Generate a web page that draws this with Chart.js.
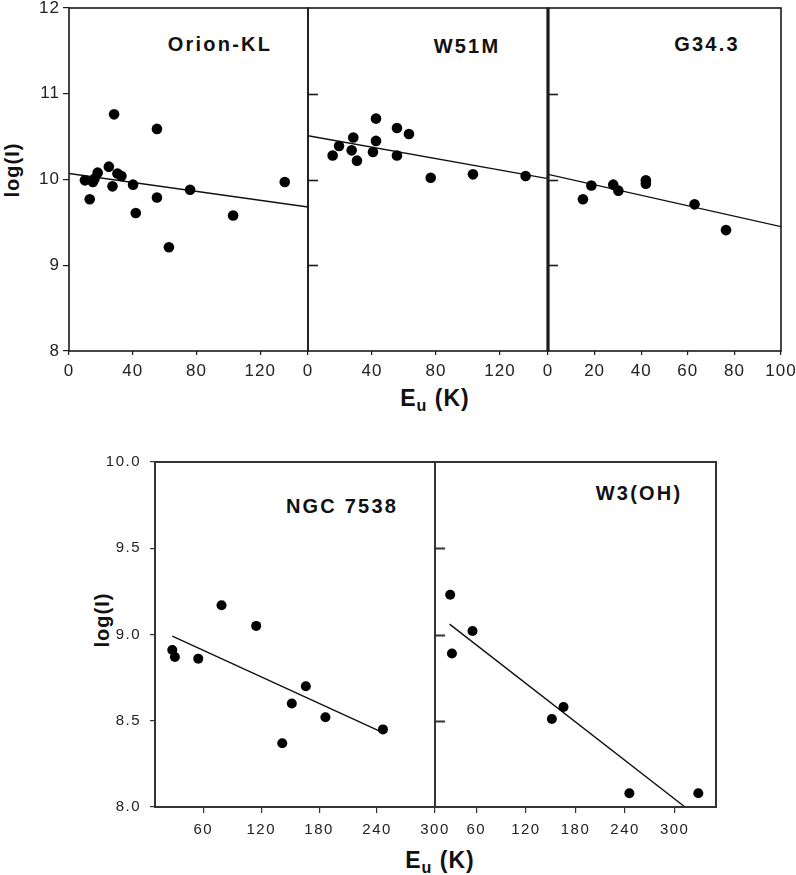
<!DOCTYPE html>
<html>
<head>
<meta charset="utf-8">
<script src="https://cdn.jsdelivr.net/npm/chart.js@4.4.0/dist/chart.umd.min.js"></script>
<style>
  body { margin: 0; background: #fff; width: 796px; height: 875px; position: relative; overflow: hidden;
         font-family: "Liberation Sans", Arial, sans-serif; }
  canvas { position: absolute; }
  .lbl { position: absolute; transform: translate(-50%, -50%); font-weight: bold; white-space: nowrap; color: #111; }
  .lbl sub { font-size: 70%; vertical-align: -0.35em; }
  .rot { transform: translate(-50%, -50%) rotate(-90deg); }
</style>
</head>
<body>

<div class="lbl" style="left:220px;top:44px;font-size:20px;letter-spacing:2.2px">Orion-KL</div>
<div class="lbl" style="left:467px;top:46px;font-size:20px;letter-spacing:2.2px">W51M</div>
<div class="lbl" style="left:707px;top:44px;font-size:20px;letter-spacing:2.2px">G34.3</div>
<div class="lbl" style="left:342px;top:506px;font-size:20px;letter-spacing:2.2px">NGC 7538</div>
<div class="lbl" style="left:639px;top:493px;font-size:20px;letter-spacing:2.2px">W3(OH)</div>
<div class="lbl" style="left:435px;top:400px;font-size:23px;letter-spacing:1px">E<sub>u</sub> (K)</div>
<div class="lbl" style="left:440px;top:862px;font-size:23px;letter-spacing:1px">E<sub>u</sub> (K)</div>
<div class="lbl rot" style="left:12px;top:170px;font-size:20px;letter-spacing:1px">log(I)</div>
<div class="lbl rot" style="left:102px;top:620px;font-size:20px;letter-spacing:1px">log(I)</div>

<script>
// ---- data ----
// Orion-KL
const orionEu   = [10, 13, 15, 16, 18, 25, 27.3, 28.3, 30.4, 32.9, 40.2, 41.9, 55.2, 55.2, 62.7, 76, 103, 135.4];
const orionLogI = [9.99, 9.77, 9.97, 10.01, 10.08, 10.15, 9.92, 10.76, 10.07, 10.04, 9.94, 9.61, 10.59, 9.79, 9.21, 9.88, 9.58, 9.97];
const orionFitEu = [0, 150];
const orionFitLogI = [10.07, 9.68];

// W51M
const w51Eu   = [15.4, 19.4, 28.3, 27.3, 30.6, 42.5, 42.5, 40.6, 55.6, 55.6, 63.1, 76.7, 103.1, 136];
const w51LogI = [10.28, 10.39, 10.49, 10.34, 10.22, 10.71, 10.45, 10.32, 10.6, 10.28, 10.53, 10.02, 10.06, 10.04];
const w51FitEu = [0, 150];
const w51FitLogI = [10.51, 10.01];

// G34.3
const g34Eu   = [15, 18.6, 28, 30.2, 42, 42, 62.9, 76.4];
const g34LogI = [9.77, 9.93, 9.94, 9.87, 9.99, 9.95, 9.71, 9.41];
const g34FitEu = [0, 100];
const g34FitLogI = [10.06, 9.45];

// NGC 7538
const ngcEu   = [27.9, 30.6, 54.8, 78.9, 114.8, 141.8, 151.7, 166.2, 186.5, 246.1];
const ngcLogI = [8.91, 8.87, 8.86, 9.17, 9.05, 8.37, 8.6, 8.7, 8.52, 8.45];
const ngcFitEu = [27.9, 242.7];
const ngcFitLogI = [8.99, 8.44];

// W3(OH)
const w3Eu   = [28.4, 30.5, 55.4, 151.4, 165.5, 245.2, 328.6];
const w3LogI = [9.23, 8.89, 9.02, 8.51, 8.58, 8.08, 8.08];
const w3FitEu = [27.6, 312.5];
const w3FitLogI = [9.06, 8.0];

// tick labels
const topYTicks = [8, 9, 10, 11, 12];
const topInnerYTicks = [9, 10, 11];
const euTicks40 = [0, 40, 80, 120];
const euTicks20 = [0, 20, 40, 60, 80, 100];
const botYTicks = [8.0, 8.5, 9.0, 9.5, 10.0];
const botInnerYTicks = [8.5, 9.0, 9.5];
const euTicks60 = [60, 120, 180, 240, 300];

const FONT = '"Liberation Sans", Arial, sans-serif';

// frame around each panel + inward ticks on shared edges
const framePlugin = {
  id: 'frame',
  beforeDraw(chart, args, o) {
    chart.ctx.letterSpacing = o.spacing || '0px';
  },
  afterDatasetsDraw(chart, args, o) {
    const { ctx, chartArea: a } = chart;
    const ys = chart.scales.y;
    ctx.save();
    ctx.letterSpacing = '0px';
    ctx.strokeStyle = o.color;
    ctx.lineWidth = o.width;
    ctx.strokeRect(a.left, a.top, a.right - a.left, a.bottom - a.top);
    if (o.leftWidth) {
      ctx.lineWidth = o.leftWidth;
      ctx.beginPath();
      ctx.moveTo(a.left, a.top);
      ctx.lineTo(a.left, a.bottom);
      ctx.stroke();
    }
    ctx.lineWidth = o.width;
    (o.inner || []).forEach(v => {
      const y = Math.round(ys.getPixelForValue(v)) + 0.5;
      ctx.beginPath();
      ctx.moveTo(a.left, y);
      ctx.lineTo(a.left + o.innerLen, y);
      ctx.stroke();
    });
    ctx.restore();
  }
};

function makePanel(p) {
  const [L, T, W, H] = p.rect;
  const padL = p.padL, padT = 22, padR = 34, padB = p.padB;
  const c = document.createElement('canvas');
  c.width = W + padL + padR;
  c.height = H + padT + padB;
  c.style.left = (L - padL) + 'px';
  c.style.top = (T - padT) + 'px';
  document.body.appendChild(c);

  const tickFont = { family: FONT, size: p.fontSize };
  new Chart(c, {
    type: 'scatter',
    data: {
      datasets: [
        {
          data: p.eu.map((x, i) => ({ x, y: p.logI[i] })),
          backgroundColor: '#000',
          borderColor: '#000',
          pointRadius: p.dot,
          pointHoverRadius: p.dot,
          borderWidth: 0
        },
        {
          data: p.fitEu.map((x, i) => ({ x, y: p.fitLogI[i] })),
          showLine: true,
          borderColor: '#111',
          borderWidth: 1.4,
          pointRadius: 0
        }
      ]
    },
    options: {
      responsive: false,
      animation: false,
      devicePixelRatio: 1,
      layout: { padding: { top: padT, right: padR, left: 0, bottom: 0 } },
      plugins: {
        legend: { display: false },
        tooltip: { enabled: false },
        frame: { color: p.frameColor, width: p.frameWidth, leftWidth: p.leftWidth,
                 inner: p.inner, innerLen: 10, spacing: p.spacing }
      },
      scales: {
        x: {
          type: 'linear',
          min: p.xMin, max: p.xMax,
          afterBuildTicks: s => { s.ticks = p.xTicks.map(v => ({ value: v })); },
          afterFit: s => { s.height = padB; },
          border: { display: false },
          grid: { drawOnChartArea: false, drawTicks: true, tickLength: p.xTickLen, color: p.frameColor, lineWidth: 1.2 },
          ticks: { font: tickFont, color: '#222', padding: p.xPad, maxRotation: 0, autoSkip: false,
                   callback: v => p.xFmt ? v.toFixed(p.xFmt) : v }
        },
        y: {
          type: 'linear',
          min: p.yMin, max: p.yMax,
          afterBuildTicks: s => { s.ticks = (p.showY ? p.yTicks : []).map(v => ({ value: v })); },
          afterFit: s => { s.width = padL; },
          border: { display: false },
          grid: { drawOnChartArea: false, drawTicks: p.showY, tickLength: p.yTickLen, color: p.frameColor, lineWidth: 1.2 },
          ticks: { display: p.showY, font: tickFont, color: '#222', padding: p.yPad, autoSkip: false,
                   callback: v => p.yFmt ? v.toFixed(p.yFmt) : v }
        }
      }
    },
    plugins: [framePlugin]
  });
}

const topRow = { yMin: 8, yMax: 12, yTicks: topYTicks, padB: 45, dot: 5.3,
  fontSize: 17, xTickLen: 4, xPad: 6, yTickLen: 6, yPad: 3, frameColor: '#1a1a1a', frameWidth: 1.6, spacing: '1px' };
const botRow = { yMin: 8, yMax: 10, yTicks: botYTicks, padB: 45, dot: 5, yFmt: 1,
  fontSize: 15, xTickLen: 6, xPad: 8, yTickLen: 5, yPad: 9, frameColor: '#333', frameWidth: 2, spacing: '1.5px' };

makePanel(Object.assign({}, topRow, { rect: [69, 8, 239, 343], padL: 69, showY: true,
  xMin: 0, xMax: 150, xTicks: euTicks40, eu: orionEu, logI: orionLogI, fitEu: orionFitEu, fitLogI: orionFitLogI }));
makePanel(Object.assign({}, topRow, { rect: [308, 8, 240, 343], padL: 12, showY: false, inner: topInnerYTicks,
  xMin: 0, xMax: 150, xTicks: euTicks40, eu: w51Eu, logI: w51LogI, fitEu: w51FitEu, fitLogI: w51FitLogI }));
makePanel(Object.assign({}, topRow, { rect: [548, 8, 233, 343], padL: 12, showY: false, inner: topInnerYTicks, leftWidth: 3.2,
  xMin: 0, xMax: 100, xTicks: euTicks20, eu: g34Eu, logI: g34LogI, fitEu: g34FitEu, fitLogI: g34FitLogI }));
makePanel(Object.assign({}, botRow, { rect: [155, 462, 280, 345], padL: 70, showY: true,
  xMin: 10, xMax: 300, xTicks: euTicks60, eu: ngcEu, logI: ngcLogI, fitEu: ngcFitEu, fitLogI: ngcFitLogI }));
makePanel(Object.assign({}, botRow, { rect: [435, 462, 281, 345], padL: 12, showY: false, inner: botInnerYTicks,
  xMin: 10, xMax: 350, xTicks: euTicks60, eu: w3Eu, logI: w3LogI, fitEu: w3FitEu, fitLogI: w3FitLogI }));
</script>
</body>
</html>
